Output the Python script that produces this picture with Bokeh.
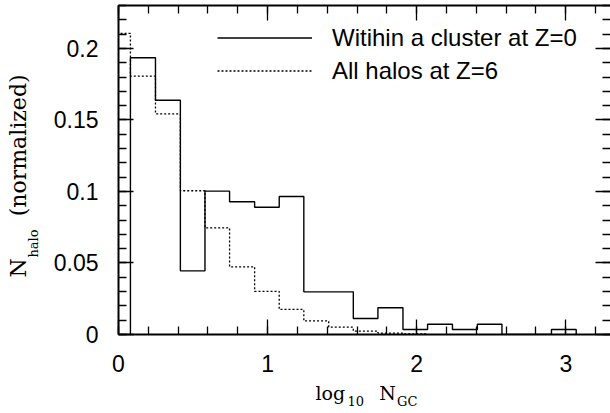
import numpy as np
from bokeh.plotting import figure
from bokeh.models import (Range1d, LinearAxis, FixedTicker, CustomJSTickFormatter,
                          Legend, LegendItem, Title, CustomLabelingPolicy)
from bokeh.embed import file_html
from bokeh.resources import INLINE

# ---- data ----
cluster_edges = [0.08, 0.248, 0.415, 0.58, 0.745, 0.913, 1.078, 1.243, 1.41, 1.575,
                 1.74, 1.908, 2.073, 2.24, 2.407, 2.572, 2.738, 2.904, 3.07]
cluster_values = [0.1935, 0.1638, 0.0445, 0.1002, 0.0928, 0.0890, 0.0965, 0.0298, 0.0298,
                  0.0112, 0.0187, 0.0035, 0.0072, 0.0035, 0.0072, 0.0, 0.0, 0.0035]

all_edges = [-0.086, 0.08, 0.248, 0.415, 0.58, 0.745, 0.913, 1.078, 1.243, 1.41,
             1.575, 1.74, 1.908, 2.073]
all_values = [0.2105, 0.1806, 0.1543, 0.1005, 0.0746, 0.0473, 0.0301, 0.0175,
              0.0095, 0.0051, 0.0024, 0.0010, 0.0005]

x_major = [0, 1, 2, 3]
y_major = [0, 0.05, 0.1, 0.15, 0.2]
legend_labels = ["Witihin a cluster at Z=0", "All halos at Z=6"]

NB = "\u00a0"
x_label_main = "log" + NB * 5 + "\u2009N"
x_label_sub = "10" + NB * 8 + "GC"
y_label_main = "N" + NB * 6 + "(normalized)"
y_label_sub = "halo"


def outline(edges, values):
    xs = [edges[0]] + list(edges[:-1]) + [edges[-1]]
    ys = [0.0] + list(values) + [0.0]
    return xs, ys


W, H = 610, 413
p = figure(width=W, height=H, output_backend="svg", toolbar_location=None,
           x_range=Range1d(0, 3.3), y_range=Range1d(0, 0.23),
           x_axis_location=None, y_axis_location=None,
           min_border_left=118, min_border_right=0, min_border_top=5,
           min_border_bottom=79)
p.outline_line_color = None
p.xgrid.visible = False
p.ygrid.visible = False
p.background_fill_color = "white"
p.border_fill_color = "white"

fmt = CustomJSTickFormatter(code="return String(parseFloat(tick.toFixed(3)));")
no_labels = CustomLabelingPolicy(code="""
    for (const i of Array.from(indices)) indices.unset(i)
    return indices
""")
x_minor = [round(v, 2) for v in np.arange(0, 3.31, 0.2)]
y_minor = [round(v, 3) for v in np.arange(0, 0.231, 0.01)]


def style(ax, labels):
    ax.major_tick_in = 15
    ax.major_tick_out = 0
    ax.minor_tick_in = 8
    ax.minor_tick_out = 0
    ax.axis_line_width = 2
    ax.major_tick_line_width = 1.3
    ax.minor_tick_line_width = 1.3
    ax.axis_line_color = "black"
    ax.major_tick_line_color = "black"
    ax.minor_tick_line_color = "black"
    if labels:
        ax.major_label_text_font = "Liberation Sans"
        ax.major_label_text_font_size = "23px"
        ax.major_label_text_color = "black"
        ax.major_label_standoff = 20
        ax.formatter = fmt
    else:
        ax.major_label_policy = no_labels
        ax.major_label_text_font_size = "0px"
        ax.major_label_standoff = 0


bottom = LinearAxis(ticker=FixedTicker(ticks=x_major, minor_ticks=x_minor))
top = LinearAxis(ticker=FixedTicker(ticks=x_major, minor_ticks=x_minor))
left = LinearAxis(ticker=FixedTicker(ticks=y_major, minor_ticks=y_minor))
right = LinearAxis(ticker=FixedTicker(ticks=y_major, minor_ticks=y_minor))
style(bottom, True)
style(left, True)
style(top, False)
style(right, False)
right.axis_line_alpha = 0
p.add_layout(bottom, "below")
p.add_layout(left, "left")
p.add_layout(top, "above")
p.add_layout(right, "right")

serif = "DejaVu Serif"


def title(text, size, offset, standoff, valign):
    return Title(text=text, align="left", vertical_align=valign, offset=offset,
                 standoff=standoff, text_font=serif, text_font_size=size,
                 text_font_style="normal", text_color="black")


# x axis label: main row then subscript row (stacked below the axis)
p.add_layout(title(x_label_main, "19px", 197, 11, "bottom"), "below")
p.add_layout(title(x_label_sub, "13px", 229, -31, "top"), "below")
# y axis label: subscript row next to the axis, main row outside it
p.add_layout(title(y_label_sub, "13px", 77, 15, "top"), "left")
p.add_layout(title(y_label_main, "22px", 57, -24, "bottom"), "left")

xs, ys = outline(cluster_edges, cluster_values)
r1 = p.step(xs, ys, mode="after", line_color="black", line_width=1.4)
xs2, ys2 = outline(all_edges, all_values)
r2 = p.step(xs2, ys2, mode="after", line_color="black", line_width=1.3, line_dash="2 2")

legend = Legend(items=[LegendItem(label=legend_labels[0], renderers=[r1]),
                       LegendItem(label=legend_labels[1], renderers=[r2])],
                location=(99, 247), glyph_width=95, glyph_height=33, label_height=33,
                label_standoff=20, spacing=0, padding=0, margin=0,
                border_line_color=None, background_fill_alpha=0,
                label_text_font="Liberation Sans", label_text_font_size="24px",
                label_text_color="black")
p.add_layout(legend, "center")

open("out.html", "w").write(file_html(p, INLINE))
